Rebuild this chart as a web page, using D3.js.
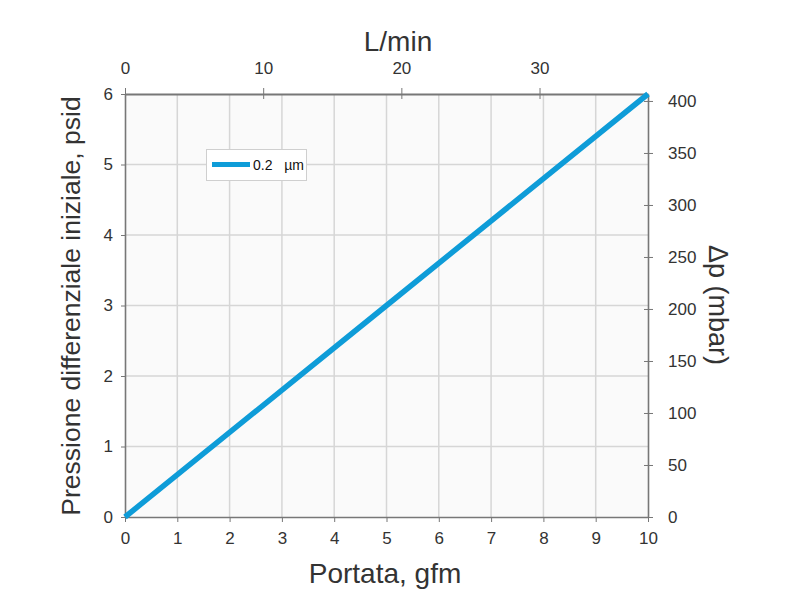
<!DOCTYPE html>
<html>
<head>
<meta charset="utf-8">
<script src="https://cdn.jsdelivr.net/npm/d3@7"></script>
<style>
  html, body { margin: 0; padding: 0; background: #fff; }
  svg { display: block; font-family: "Liberation Sans", Arial, Helvetica, sans-serif; }
</style>
</head>
<body>
<svg id="chart" width="800" height="607"></svg>
<script>
// ---- data ----
const flowGfm = [0, 5, 10];
const dpPsid = [0, 3, 6];
const seriesName = "0.2   µm";
const bottomTicks = [0, 1, 2, 3, 4, 5, 6, 7, 8, 9, 10];
const leftTicks = [0, 1, 2, 3, 4, 5, 6];
const topTicks = [0, 10, 20, 30];
const rightTicks = [0, 50, 100, 150, 200, 250, 300, 350, 400];
const xTitle = "Portata, gfm";
const yTitle = "Pressione differenziale iniziale, psid";
const topTitle = "L/min";
const rightTitle = "Δp (mbar)";

// ---- layout ----
const L = 125, R = 648, T = 94, B = 517;
const svg = d3.select("#chart");
const blue = "#0e9cd8";
const axisCol = "#777";
const textCol = "#333";
const tickFs = 17;

const x = d3.scaleLinear().domain([0, 10]).range([L, R]);
const y = d3.scaleLinear().domain([0, 6]).range([B, T]);
const xTop = d3.scaleLinear().domain([0, 37.85]).range([L, R]);
const yRight = d3.scaleLinear().domain([0, 406.7]).range([B, T]);
const fmt = d3.format("d");

// background
svg.append("rect").attr("x", L).attr("y", T).attr("width", R - L).attr("height", B - T).attr("fill", "#fafafa");

// gridlines
svg.append("g").selectAll("line").data(bottomTicks.slice(1, -1)).join("line")
  .attr("x1", d => x(d)).attr("x2", d => x(d)).attr("y1", T).attr("y2", B)
  .attr("stroke", "#d6d6d6").attr("stroke-width", 1.5);
svg.append("g").selectAll("line").data(leftTicks.slice(1, -1)).join("line")
  .attr("y1", d => y(d)).attr("y2", d => y(d)).attr("x1", L).attr("x2", R)
  .attr("stroke", "#d6d6d6").attr("stroke-width", 1.5);

function styleAxis(g) {
  g.attr("font-family", null).attr("font-size", null);
  g.select(".domain").attr("stroke", axisCol).attr("stroke-width", 1.6);
  g.selectAll(".tick line").attr("stroke", axisCol).attr("stroke-width", 1);
  g.selectAll(".tick text").attr("fill", textCol).style("font-size", tickFs + "px");
}

// bottom axis
const gB = svg.append("g").attr("transform", `translate(0,${B})`)
  .call(d3.axisBottom(x).tickValues(bottomTicks).tickFormat(fmt).tickSize(5).tickPadding(10).tickSizeOuter(0));
styleAxis(gB);

// left axis
const gL = svg.append("g").attr("transform", `translate(${L},0)`)
  .call(d3.axisLeft(y).tickValues(leftTicks).tickFormat(fmt).tickSize(4).tickPadding(8).tickSizeOuter(0));
styleAxis(gL);

// top axis (ticks crossing)
const gT = svg.append("g").attr("transform", `translate(0,${T})`)
  .call(d3.axisTop(xTop).tickValues(topTicks).tickFormat(fmt).tickSize(6).tickPadding(14).tickSizeOuter(0));
styleAxis(gT);
gT.selectAll(".tick line").attr("y2", -6).attr("y1", 5);
gT.select(".domain").attr("stroke-width", 2.2);

// right axis
const gR = svg.append("g").attr("transform", `translate(${R},0)`)
  .call(d3.axisRight(yRight).tickValues(rightTicks).tickFormat(fmt).tickSize(5).tickPadding(15).tickSizeOuter(0));
styleAxis(gR);
gR.selectAll(".tick line").attr("x1", -4).attr("x2", 5);

// series line
const line = d3.line().x((d, i) => x(flowGfm[i])).y(d => y(d));
svg.append("path").datum(dpPsid).attr("d", line)
  .attr("fill", "none").attr("stroke", blue).attr("stroke-width", 5.5).attr("stroke-linecap", "butt");

// legend
const lg = svg.append("g");
lg.append("rect").attr("x", 206.5).attr("y", 149.5).attr("width", 100).attr("height", 31)
  .attr("fill", "#fff").attr("stroke", "#cfcfcf").attr("stroke-width", 1);
lg.append("line").attr("x1", 212).attr("x2", 250).attr("y1", 164.5).attr("y2", 164.5)
  .attr("stroke", blue).attr("stroke-width", 5);
lg.append("text").attr("x", 253).attr("y", 170).attr("font-size", 14).attr("fill", "#111")
  .attr("xml:space", "preserve").style("white-space", "pre").text(seriesName);

// titles
svg.append("text").attr("x", 385).attr("y", 583).attr("text-anchor", "middle")
  .attr("font-size", 28).attr("fill", textCol).text(xTitle);
svg.append("text").attr("x", 398).attr("y", 51).attr("text-anchor", "middle")
  .attr("font-size", 28).attr("fill", textCol).text(topTitle);
svg.append("text").attr("transform", `translate(80,306) rotate(-90)`).attr("text-anchor", "middle")
  .attr("font-size", 26.5).attr("fill", textCol).text(yTitle);
svg.append("text").attr("transform", `translate(709,305) rotate(90)`).attr("text-anchor", "middle")
  .attr("font-size", 27).attr("fill", textCol).text(rightTitle);
</script>
</body>
</html>
